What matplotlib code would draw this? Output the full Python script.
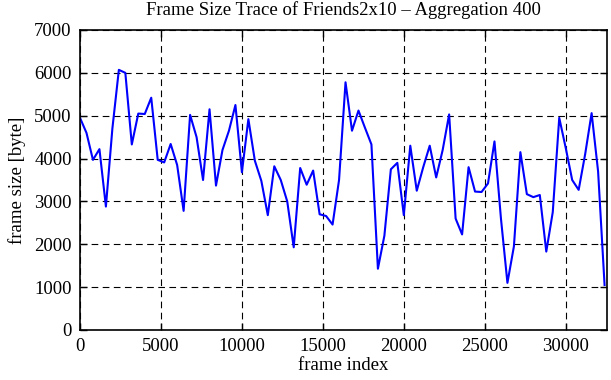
import matplotlib
matplotlib.use("Agg")
import matplotlib.pyplot as plt
import numpy as np

# aggregated frame sizes, one value per 400 frames
frame_index = np.arange(0, 32401, 400)
frame_size = [
    4950, 4600, 3970, 4220, 2880, 4700, 6070, 6000, 4330, 5050,
    5040, 5420, 3970, 3910, 4340, 3850, 2780, 5020, 4500, 3500,
    5150, 3370, 4200, 4650, 5250, 3680, 4920, 3950, 3480, 2680,
    3820, 3500, 3000, 1930, 3780, 3390, 3720, 2700, 2660, 2460,
    3500, 5780, 4650, 5120, 4720, 4330, 1430, 2200, 3750, 3900,
    2680, 4300, 3250, 3800, 4300, 3560, 4200, 5030, 2600, 2230,
    3800, 3230, 3220, 3420, 4400, 2600, 1100, 1950, 4150, 3170,
    3100, 3150, 1830, 2750, 4950, 4250, 3500, 3270, 4100, 5060,
    3700, 1050,
]

plt.rcParams['font.family'] = ['Liberation Serif', 'DejaVu Serif']
plt.rcParams['font.size'] = 13.5

fig = plt.figure(figsize=(6.11, 3.80), dpi=100)
ax = fig.add_axes([80 / 611, 50 / 380, 527 / 611, 300 / 380])

ax.plot(frame_index, frame_size, color='#0000ff', linewidth=1.5)

ax.set_xlim(0, 32550)
ax.set_ylim(0, 7000)
ax.set_xticks(range(0, 30001, 5000))
ax.set_yticks(range(0, 7001, 1000))
ax.grid(True, color='black', linestyle=(0, (6, 4)), linewidth=0.8)
ax.tick_params(direction='in', top=True, right=True, length=5, width=1)
ax.tick_params(axis='x', pad=6)
ax.tick_params(axis='y', pad=6)
for s in ax.spines.values():
    s.set_linewidth(1.2)

ax.set_title('Frame Size Trace of Friends2x10 – Aggregation 400', fontsize=13.5, pad=11)
ax.set_xlabel('frame index', labelpad=1)
ax.set_ylabel('frame size [byte]', labelpad=6)

fig.savefig('out.png', dpi=100)
